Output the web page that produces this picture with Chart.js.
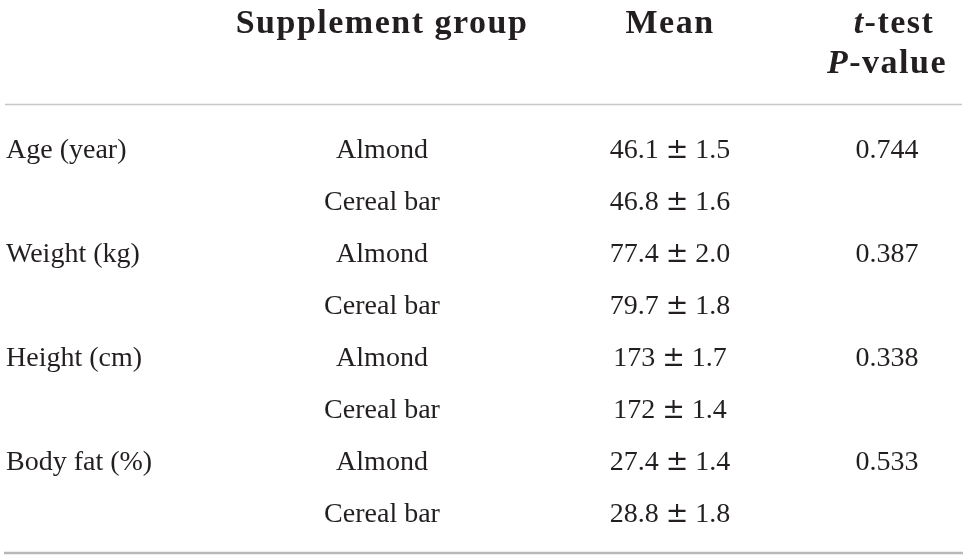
<!DOCTYPE html>
<html lang="en">
<head>
    <meta charset="UTF-8">
    <script src="https://cdn.jsdelivr.net/npm/chart.js"></script>
    <style>
        body { margin: 0; background: #fff; }
        .box { width: 968px; height: 559px; position: relative; }
    </style>
    <title>Supplement group table</title>
</head>
<body>
    <div class="box">
        <canvas id="myChart"></canvas>
    </div>

    <script>
        // data
        const measures = ['Age (year)', 'Weight (kg)', 'Height (cm)', 'Body fat (%)'];
        const groups = ['Almond', 'Cereal bar'];
        const meanValues = [46.1, 46.8, 77.4, 79.7, 173, 172, 27.4, 28.8];
        const seValues = [1.5, 1.6, 2.0, 1.8, 1.7, 1.4, 1.4, 1.8];
        const pValues = [0.744, 0.387, 0.338, 0.533];

        // layout (scale units = px of the 968x559 picture)
        const colX = { measure: 6, group: 382, mean: 670, p: 887 };
        const firstRowY = 158;
        const rowStep = 52;
        const textColor = '#231f20';
        const bodyFont = '28px "Liberation Serif"';

        function rowY(i) { return firstRowY + rowStep * i; }
        function fmtMean(v) { return Number.isInteger(v) ? String(v) : v.toFixed(1); }

        // build datasets, one per column
        const measureData = [];
        const groupData = [];
        const meanData = [];
        const pData = [];
        measures.forEach((m, i) => {
            measureData.push({ x: colX.measure, y: rowY(i * 2), text: m });
            pData.push({ x: colX.p, y: rowY(i * 2), text: pValues[i].toFixed(3) });
            groups.forEach((g, k) => {
                const r = i * 2 + k;
                groupData.push({ x: colX.group, y: rowY(r), text: g });
                meanData.push({ x: colX.mean, y: rowY(r), mean: fmtMean(meanValues[r]), se: seValues[r].toFixed(1) });
            });
        });

        // draw a list of text runs centred (or left aligned) at x
        function drawRuns(ctx, runs, x, y, align, spacing) {
            ctx.letterSpacing = spacing || '0px';
            let total = 0;
            runs.forEach(r => { ctx.font = r.font; r.w = ctx.measureText(r.text).width; total += r.w; });
            let cx = align === 'left' ? x : x - total / 2;
            ctx.textAlign = 'left';
            runs.forEach(r => {
                ctx.font = r.font;
                ctx.fillText(r.text, cx, y);
                cx += r.w;
            });
            ctx.letterSpacing = '0px';
        }

        const tablePlugin = {
            id: 'table_text',
            afterDatasetsDraw: (chart) => {
                const ctx = chart.ctx;
                const xs = chart.scales.x;
                const ys = chart.scales.y;
                ctx.save();
                ctx.fillStyle = textColor;
                ctx.textBaseline = 'alphabetic';

                // header
                const hb = 'bold 34px "Liberation Serif"';
                const hbi = 'italic bold 34px "Liberation Serif"';
                const hs = '1.5px';
                drawRuns(ctx, [{ text: 'Supplement group', font: hb }], xs.getPixelForValue(colX.group), ys.getPixelForValue(33), 'center', hs);
                drawRuns(ctx, [{ text: 'Mean', font: hb }], xs.getPixelForValue(colX.mean), ys.getPixelForValue(33), 'center', hs);
                drawRuns(ctx, [{ text: 't', font: hbi }, { text: '-test', font: hb }], xs.getPixelForValue(894), ys.getPixelForValue(33), 'center', hs);
                drawRuns(ctx, [{ text: 'P', font: hbi }, { text: '-value', font: hb }], xs.getPixelForValue(colX.p), ys.getPixelForValue(73), 'center', hs);

                // rules
                ctx.strokeStyle = '#c8c8c8';
                ctx.lineWidth = 1.5;
                ctx.beginPath();
                ctx.moveTo(xs.getPixelForValue(5), ys.getPixelForValue(104.5));
                ctx.lineTo(xs.getPixelForValue(962), ys.getPixelForValue(104.5));
                ctx.stroke();
                ctx.strokeStyle = '#b8b8b8';
                ctx.lineWidth = 2.5;
                ctx.beginPath();
                ctx.moveTo(xs.getPixelForValue(4), ys.getPixelForValue(553));
                ctx.lineTo(xs.getPixelForValue(963), ys.getPixelForValue(553));
                ctx.stroke();

                // cells
                chart.data.datasets.forEach((ds, di) => {
                    const meta = chart.getDatasetMeta(di);
                    meta.data.forEach((pt, j) => {
                        const raw = ds.data[j];
                        if (ds.kind === 'mean') {
                            drawRuns(ctx, [
                                { text: raw.mean + ' ', font: bodyFont },
                                { text: '±', font: '27px "DejaVu Serif"' },
                                { text: ' ' + raw.se, font: bodyFont }
                            ], pt.x, pt.y, 'center');
                        } else {
                            drawRuns(ctx, [{ text: raw.text, font: bodyFont }], pt.x, pt.y, ds.align);
                        }
                    });
                });
                ctx.restore();
            }
        };

        const config = {
            type: 'scatter',
            data: {
                datasets: [
                    { label: 'measure', data: measureData, align: 'left', pointRadius: 0 },
                    { label: 'group', data: groupData, align: 'center', pointRadius: 0 },
                    { label: 'mean', data: meanData, kind: 'mean', pointRadius: 0 },
                    { label: 'p', data: pData, align: 'center', pointRadius: 0 }
                ]
            },
            plugins: [tablePlugin],
            options: {
                responsive: true,
                maintainAspectRatio: false,
                animation: false,
                layout: { padding: 0 },
                plugins: {
                    legend: { display: false },
                    tooltip: { enabled: false }
                },
                events: [],
                scales: {
                    x: { type: 'linear', min: 0, max: 968, display: false },
                    y: { type: 'linear', min: 0, max: 559, reverse: true, display: false }
                }
            }
        };

        const myChart = new Chart(document.getElementById('myChart').getContext('2d'), config);
    </script>
</body>
</html>
